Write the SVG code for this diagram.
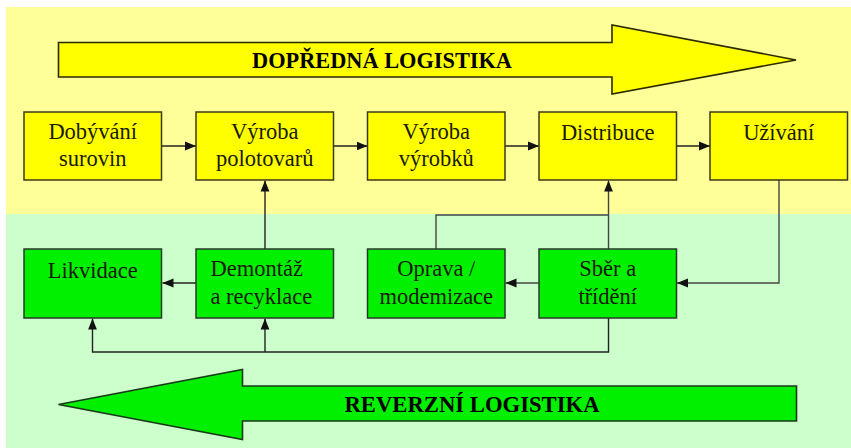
<svg xmlns="http://www.w3.org/2000/svg" width="851" height="448" viewBox="0 0 851 448">
<style>
.yb{fill:#FFFF00;stroke:#3a3a1a;stroke-width:1.5}
.gb{fill:#00F000;stroke:#2a3a2a;stroke-width:1.5}
.t{font-family:"Liberation Serif","Times New Roman",serif;font-size:22.5px;fill:#1a1a00;text-anchor:middle}
.big{font-family:"Liberation Serif","Times New Roman",serif;font-size:23px;font-weight:bold;fill:#000;text-anchor:middle}
.c{fill:none;stroke:#222;stroke-width:1.4}
.g{fill:none;stroke:#444;stroke-width:1.4}
</style>
<defs>
<marker id="ah" viewBox="0 0 10 10" refX="10" refY="5" markerWidth="11" markerHeight="11" markerUnits="userSpaceOnUse" orient="auto">
<path d="M0,1 L10,5 L0,9 Z" fill="#111"/>
</marker>
</defs>
<rect x="6" y="7" width="845" height="207" fill="#FFFF99"/>
<rect x="6" y="214" width="845" height="234" fill="#CCFFCC"/>
<g id="forward-arrow">
<polygon points="58.5,42.5 612,42.5 612,25 796,60 612,94 612,77 58.5,77" fill="#FFFF00" stroke="#2a2a00" stroke-width="1.6" stroke-linejoin="miter"/>
<text class="big" x="382" y="68" textLength="260" lengthAdjust="spacingAndGlyphs">DOPŘEDNÁ LOGISTIKA</text>
</g>
<g id="reverse-arrow">
<polygon points="796.5,386 242.5,386 242.5,369.5 58.5,404.5 242.5,439.5 242.5,421 796.5,421" fill="#00F000" stroke="#1a3a1a" stroke-width="1.6"/>
<text class="big" x="472" y="412" textLength="255" lengthAdjust="spacingAndGlyphs">REVERZNÍ LOGISTIKA</text>
</g>
<g id="connectors">
<line class="c" x1="162" y1="146" x2="196" y2="146" marker-end="url(#ah)"/>
<line class="c" x1="333.5" y1="146" x2="367.5" y2="146" marker-end="url(#ah)"/>
<line class="c" x1="505" y1="146" x2="539" y2="146" marker-end="url(#ah)"/>
<line class="c" x1="676.5" y1="146" x2="710" y2="146" marker-end="url(#ah)"/>
<line class="c" x1="265" y1="249" x2="265" y2="180.5" marker-end="url(#ah)"/>
<line class="g" x1="608.5" y1="249" x2="608.5" y2="180.5" marker-end="url(#ah)"/>
<polyline class="g" points="436,249 436,215 608.5,215"/>
<polyline class="g" points="779,180 779,283 677,283" marker-end="url(#ah)"/>
<line class="g" x1="539" y1="283" x2="505.5" y2="283" marker-end="url(#ah)"/>
<line class="c" x1="196" y1="283" x2="162.5" y2="283" marker-end="url(#ah)"/>
<polyline class="c" points="608.5,318 608.5,352 92.5,352 92.5,318.5" marker-end="url(#ah)"/>
<line class="c" x1="265" y1="352" x2="265" y2="318.5" marker-end="url(#ah)"/>
</g>
<g id="dobyvani">
<rect class="yb" x="24" y="112" width="137.5" height="68"/>
<text class="t" x="92.75" y="139">Dobývání</text>
<text class="t" x="92.75" y="166">surovin</text>
</g>
<g id="vyroba-polotovaru">
<rect class="yb" x="196" y="112" width="137.5" height="68"/>
<text class="t" x="264.75" y="139">Výroba</text>
<text class="t" x="264.75" y="166">polotovarů</text>
</g>
<g id="vyroba-vyrobku">
<rect class="yb" x="367.5" y="112" width="137.5" height="68"/>
<text class="t" x="436.25" y="139">Výroba</text>
<text class="t" x="436.25" y="166">výrobků</text>
</g>
<g id="distribuce">
<rect class="yb" x="539" y="112" width="137.5" height="68"/>
<text class="t" x="607.75" y="140">Distribuce</text>
</g>
<g id="uzivani">
<rect class="yb" x="710" y="112" width="137.5" height="68"/>
<text class="t" x="778.75" y="140">Užívání</text>
</g>
<g id="likvidace">
<rect class="gb" x="24" y="249" width="137.5" height="69"/>
<text class="t" x="92.75" y="278">Likvidace</text>
</g>
<g id="demontaz">
<rect class="gb" x="196" y="249" width="137.5" height="69"/>
<text class="t" x="210.5" y="276" style="text-anchor:start">Demontáž</text>
<text class="t" x="210.5" y="303.5" style="text-anchor:start">a recyklace</text>
</g>
<g id="oprava">
<rect class="gb" x="367.5" y="249" width="137.5" height="69"/>
<text class="t" x="436.25" y="276">Oprava /</text>
<text class="t" x="436.25" y="303.5">modemizace</text>
</g>
<g id="sber">
<rect class="gb" x="539" y="249" width="137.5" height="69"/>
<text class="t" x="607.75" y="276">Sběr a</text>
<text class="t" x="607.75" y="303.5">třídění</text>
</g>
</svg>
